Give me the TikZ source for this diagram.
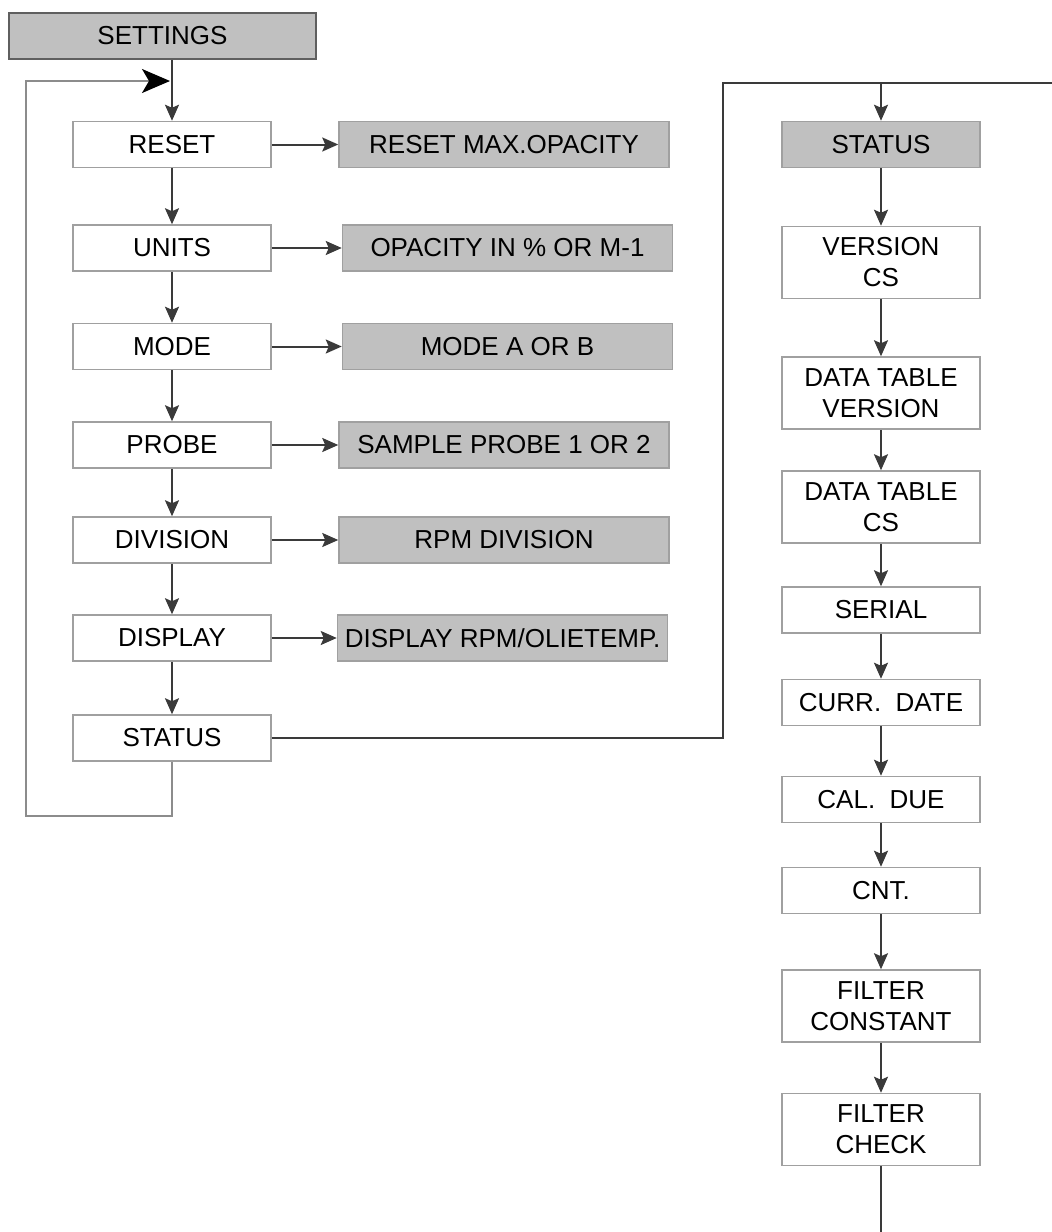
\documentclass[tikz,border=0pt]{standalone}
\usepackage{fontspec}
\setmainfont{Liberation Sans}
\usetikzlibrary{arrows.meta}
\definecolor{menufill}{HTML}{FFFFFF}
\definecolor{menuedge}{HTML}{A0A0A0}
\definecolor{optfill}{HTML}{C0C0C0}
\definecolor{titleedge}{HTML}{5F5F5F}
\definecolor{wireline}{HTML}{3A3A3A}
\definecolor{loopgray}{HTML}{8C8C8C}

\begin{document}
\begin{tikzpicture}[x=1pt, y=-1pt,
  menubox/.style={rectangle, draw=menuedge, fill=menufill, line width=1.5pt,
              minimum width=198pt, minimum height=46pt, inner sep=2pt,
              align=center, font=\fontsize{26}{31}\selectfont},
  optbox/.style={menubox, fill=optfill, minimum width=330pt},
  titlebox/.style={optbox, draw=titleedge, minimum width=307pt},
  twoline/.style={minimum height=72pt},
  flow/.style={draw=wireline, line width=2pt, -{Stealth[length=16pt, width=14pt, inset=3pt]}},
  wire/.style={draw=wireline, line width=2pt},
  loopline/.style={draw=loopgray, line width=1.5pt},
]
\useasboundingbox (0,0) rectangle (1052,1232);
% ---- settings menu: left column (white) with option boxes (gray)
\node[titlebox] (settings) at (162.5, 36) {SETTINGS};
\node[menubox] (reset) at (172, 144.5) {RESET};
\node[menubox] (units) at (172, 248) {UNITS};
\node[menubox] (mode) at (172, 346.5) {MODE};
\node[menubox] (probe) at (172, 445) {PROBE};
\node[menubox] (division) at (172, 540) {DIVISION};
\node[menubox] (display) at (172, 638) {DISPLAY};
\node[menubox] (status) at (172, 738) {STATUS};
\node[optbox] (resetopt) at (504, 144.5) {RESET MAX.OPACITY};
\node[optbox] (unitsopt) at (507.5, 248) {OPACITY IN \% OR M-1};
\node[optbox] (modeopt) at (507.5, 346.5) {MODE A OR B};
\node[optbox] (probeopt) at (504, 445) {SAMPLE PROBE 1 OR 2};
\node[optbox] (divisionopt) at (504, 540) {RPM DIVISION};
\node[optbox] (displayopt) at (502.5, 638) {DISPLAY RPM/OLIETEMP.};
\draw[flow] (settings.south -| reset.north) -- (reset.north);
\draw[flow] (reset.south) -- (units.north);
\draw[flow] (units.south) -- (mode.north);
\draw[flow] (mode.south) -- (probe.north);
\draw[flow] (probe.south) -- (division.north);
\draw[flow] (division.south) -- (display.north);
\draw[flow] (display.south) -- (status.north);
\draw[flow] (reset.east) -- (resetopt.west);
\draw[flow] (units.east) -- (unitsopt.west);
\draw[flow] (mode.east) -- (modeopt.west);
\draw[flow] (probe.east) -- (probeopt.west);
\draw[flow] (division.east) -- (divisionopt.west);
\draw[flow] (display.east) -- (displayopt.west);
% ---- return loop: status back to the top of the menu
\coordinate (loopbot) at (26, 816);
\coordinate (looptop) at (26, 81);
\draw[loopline, -{Stealth[length=28pt, width=24pt, inset=7pt, color=black]}]
  (status.south) |- (loopbot) -- (looptop) -- ([xshift=-2pt]looptop -| reset.north);
% ---- status submenu: right column
\node[menubox, fill=optfill] (statushead) at (881, 144.5) {STATUS};
\node[menubox, twoline] (version) at (881, 262.5) {VERSION\\CS};
\node[menubox, twoline] (dtversion) at (881, 393) {DATA TABLE\\VERSION};
\node[menubox, twoline] (dtcs) at (881, 507) {DATA TABLE\\CS};
\node[menubox] (serial) at (881, 610) {SERIAL};
\node[menubox] (currdate) at (881, 702.5) {CURR.\ \ DATE};
\node[menubox] (caldue) at (881, 799.5) {CAL.\ \ DUE};
\node[menubox] (cnt) at (881, 890.5) {CNT.};
\node[menubox, twoline] (fconstant) at (881, 1006) {FILTER\\CONSTANT};
\node[menubox, twoline] (fcheck) at (881, 1129.5) {FILTER\\CHECK};
\coordinate (jog) at (723, 738);
\coordinate (topjog) at (723, 83);
\coordinate (topend) at (1052, 83);
\coordinate (tailend) at (881, 1232);
\draw[wire] (status.east) -- (jog) -- (topjog) -- (topend);
\draw[flow] (topjog -| statushead.north) -- (statushead.north);
\draw[flow] (statushead.south) -- (version.north);
\draw[flow] (version.south) -- (dtversion.north);
\draw[flow] (dtversion.south) -- (dtcs.north);
\draw[flow] (dtcs.south) -- (serial.north);
\draw[flow] (serial.south) -- (currdate.north);
\draw[flow] (currdate.south) -- (caldue.north);
\draw[flow] (caldue.south) -- (cnt.north);
\draw[flow] (cnt.south) -- (fconstant.north);
\draw[flow] (fconstant.south) -- (fcheck.north);
\draw[wire] (fcheck.south) -- (tailend);
\end{tikzpicture}
\end{document}
